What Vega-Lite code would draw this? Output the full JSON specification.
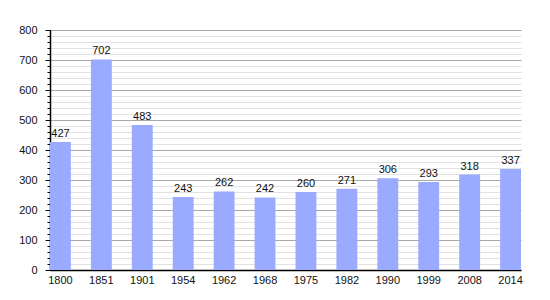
{
  "$schema": "https://vega.github.io/schema/vega-lite/v6.json",
  "width": 471,
  "height": 240,
  "autosize": {"type": "none"},
  "padding": {"left": 50, "top": 30, "right": 29, "bottom": 30},
  "background": "white",
  "config": {
    "view": {"stroke": null},
    "font": "Liberation Sans",
    "axis": {"labelFont": "Liberation Sans", "labelFontSize": 11, "labelColor": "#111", "domainColor": "#000", "tickColor": "#000"}
  },
  "data": {
    "values": [
      {"year": "1800", "pop": 427},
      {"year": "1851", "pop": 702},
      {"year": "1901", "pop": 483},
      {"year": "1954", "pop": 243},
      {"year": "1962", "pop": 262},
      {"year": "1968", "pop": 242},
      {"year": "1975", "pop": 260},
      {"year": "1982", "pop": 271},
      {"year": "1990", "pop": 306},
      {"year": "1999", "pop": 293},
      {"year": "2008", "pop": 318},
      {"year": "2014", "pop": 337}
    ]
  },
  "encoding": {
    "x": {
      "field": "year", "type": "nominal", "sort": null,
      "scale": {"paddingInner": 0.49, "paddingOuter": 0},
      "axis": {"title": null, "labelAngle": 0, "ticks": false, "labelPadding": 4, "domainWidth": 1.5, "grid": false}
    }
  },
  "layer": [
    {
      "mark": {"type": "bar", "color": "#99aaff"},
      "encoding": {
        "y": {
          "field": "pop", "type": "quantitative",
          "scale": {"domain": [0, 800], "nice": false},
          "axis": {"orient": "left", "title": null, "values": [0,20,40,60,80,100,120,140,160,180,200,220,240,260,280,300,320,340,360,380,400,420,440,460,480,500,520,540,560,580,600,620,640,660,680,700,720,740,760,780,800], "labels": false, "tickSize": 3, "grid": true, "gridColor": "#e2e2e2", "gridWidth": 1, "domain": false, "zindex": 0}
        }
      }
    },
    {
      "mark": {"type": "text", "dy": -8, "fontSize": 11, "color": "#111", "font": "Liberation Sans"},
      "encoding": {
        "y": {
          "field": "pop", "type": "quantitative",
          "axis": {"orient": "left", "title": null, "values": [0,100,200,300,400,500,600,700,800], "tickSize": 5, "labelPadding": 8, "grid": true, "gridColor": "#a8a8a8", "gridWidth": 1, "domain": true, "domainWidth": 1.5, "zindex": 0}
        },
        "text": {"field": "pop", "type": "quantitative"}
      }
    }
  ],
  "resolve": {"axis": {"y": "independent"}}
}
